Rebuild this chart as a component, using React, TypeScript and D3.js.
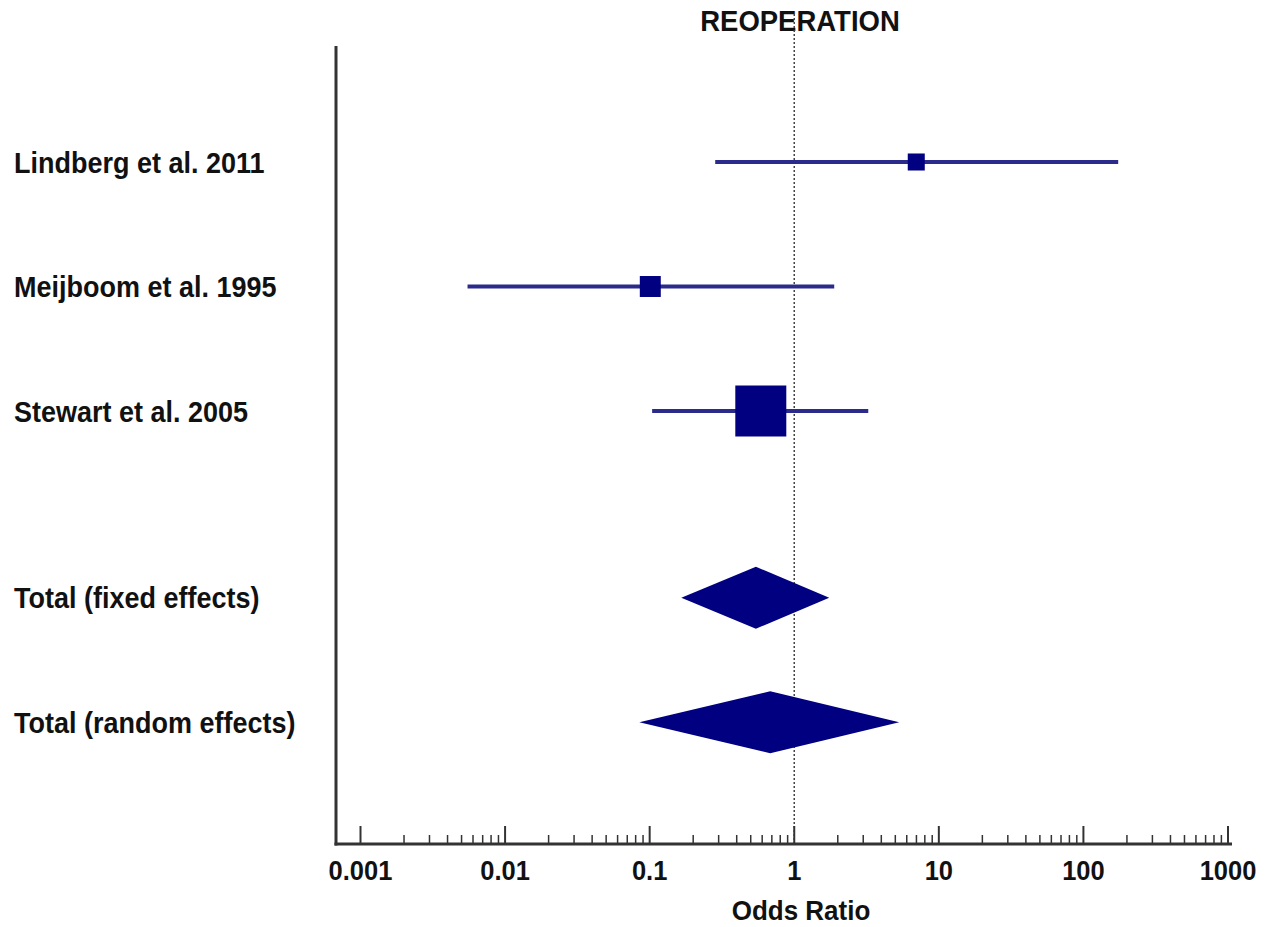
import React from "react";
import * as d3 from "d3";

const studies = ["Lindberg et al. 2011", "Meijboom et al. 1995", "Stewart et al. 2005"];
const studyOR = [6.98, 0.101, 0.587];
const studyLow = [0.284, 0.0055, 0.104];
const studyHigh = [174, 1.89, 3.25];
const studyWeight = [8.7, 13.2, 78.1];
const studyRow = [0, 1, 2];

const totals = ["Total (fixed effects)", "Total (random effects)"];
const totalOR = [0.543, 0.682];
const totalLow = [0.1655, 0.0848];
const totalHigh = [1.746, 5.32];
const totalRow = [3.5, 4.5];

const tickValues = [0.001, 0.01, 0.1, 1, 10, 100, 1000];
const tickLabels = ["0.001", "0.01", "0.1", "1", "10", "100", "1000"];

const title = "REOPERATION";
const xTitle = "Odds Ratio";

function T({ x, y, size, anchor, sy, children }: any) {
  return (
    <text
      transform={`translate(${x},${y}) scale(1,${sy})`}
      textAnchor={anchor || "start"}
      fontWeight="bold"
      fontSize={size}
      fill="#111"
    >
      {children}
    </text>
  );
}

export default function App() {
  const W = 1273, H = 927;
  const x = d3.scaleLog().domain([0.001, 1000]).range([360.5, 1228]);
  const y = d3.scaleLinear().domain([0, 1]).range([162, 286.5]);
  const size = d3.scaleSqrt().domain([0, 100]).range([0, 57.7]);
  const axisY = 844;
  const axisX = 336;
  const navy = "#000080";
  const lineCol = "#2b2b8c";
  const axisCol = "#333333";
  const font = "'Liberation Sans', Arial, sans-serif";
  const minor = x.ticks().filter((t) => !tickValues.some((v) => Math.abs(Math.log10(v) - Math.log10(t)) < 1e-6));
  const halfH = 31;

  return (
    <svg width={W} height={H} style={{ position: "absolute", left: 0, top: 0, background: "#fff" }} fontFamily={font}>
      <T x={800} y={31} size={27.5} anchor="middle" sy={1.1}>{title}</T>
      {/* reference line */}
      <line x1={x(1)} x2={x(1)} y1={14} y2={axisY} stroke="#444" strokeWidth={1.5} strokeDasharray="2,2" />
      {/* axes */}
      <line x1={axisX} x2={axisX} y1={46} y2={axisY + 1.5} stroke={axisCol} strokeWidth={3} />
      <line x1={axisX - 1.5} x2={1232} y1={axisY} y2={axisY} stroke={axisCol} strokeWidth={3} />
      {tickValues.map((t, i) => (
        <g key={"M" + i}>
          <line x1={x(t)} x2={x(t)} y1={axisY} y2={axisY - 18} stroke={axisCol} strokeWidth={2} />
          <T x={x(t)} y={880} size={25.5} anchor="middle" sy={1.12}>{tickLabels[i]}</T>
        </g>
      ))}
      {minor.map((t, i) => (
        <line key={"m" + i} x1={x(t)} x2={x(t)} y1={axisY} y2={axisY - 9} stroke={axisCol} strokeWidth={1.5} />
      ))}
      <T x={801} y={920} size={26} anchor="middle" sy={1.08}>{xTitle}</T>
      {/* studies */}
      {studies.map((s, i) => {
        const cy = y(studyRow[i]);
        const sz = size(studyWeight[i]);
        return (
          <g key={s}>
            <T x={14} y={cy + 10.5} size={27} sy={1.12}>{s}</T>
            <line x1={x(studyLow[i])} x2={x(studyHigh[i])} y1={cy} y2={cy} stroke={lineCol} strokeWidth={4} />
            <rect x={x(studyOR[i]) - sz / 2} y={cy - sz / 2} width={sz} height={sz} fill={navy} />
          </g>
        );
      })}
      {totals.map((s, i) => {
        const cy = y(totalRow[i]);
        const pts = [
          [x(totalLow[i]), cy],
          [x(totalOR[i]), cy - halfH],
          [x(totalHigh[i]), cy],
          [x(totalOR[i]), cy + halfH],
        ];
        return (
          <g key={s}>
            <T x={14} y={cy + 10.5} size={27} sy={1.12}>{s}</T>
            <path d={d3.line()(pts as [number, number][]) + "Z"} fill={navy} />
          </g>
        );
      })}
    </svg>
  );
}
